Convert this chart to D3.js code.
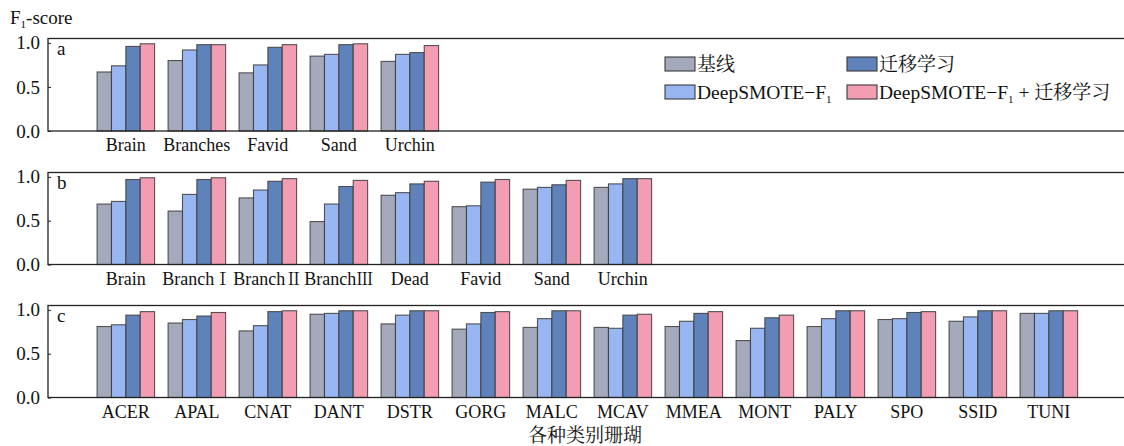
<!DOCTYPE html>
<html>
<head>
<meta charset="utf-8">
<script src="https://cdn.jsdelivr.net/npm/d3@7/dist/d3.min.js"></script>
</head>
<body style="margin:0;background:#fff">
<svg id="chart" width="1124" height="446" style="display:block"></svg>
<script>
// ---- data ----
const seriesNames = ["基线", "DeepSMOTE−F1", "迁移学习", "DeepSMOTE−F1 + 迁移学习"];
const seriesColors = ["#a4aabb", "#98b6f1", "#6082bb", "#f29db1"];
const yTicks = [0, 0.5, 1.0];

const catsA = ["Brain", "Branches", "Favid", "Sand", "Urchin"];
const baseA = [0.67, 0.80, 0.66, 0.85, 0.79];
const smoteA = [0.74, 0.92, 0.75, 0.87, 0.87];
const transA = [0.96, 0.98, 0.95, 0.98, 0.89];
const bothA = [0.99, 0.98, 0.98, 0.99, 0.97];

const catsB = ["Brain", "BranchⅠ", "BranchⅡ", "BranchⅢ", "Dead", "Favid", "Sand", "Urchin"];
const baseB = [0.69, 0.61, 0.76, 0.49, 0.79, 0.66, 0.86, 0.88];
const smoteB = [0.72, 0.80, 0.85, 0.69, 0.82, 0.67, 0.88, 0.92];
const transB = [0.97, 0.97, 0.95, 0.89, 0.92, 0.94, 0.91, 0.98];
const bothB = [0.99, 0.99, 0.98, 0.96, 0.95, 0.97, 0.96, 0.98];

const catsC = ["ACER", "APAL", "CNAT", "DANT", "DSTR", "GORG", "MALC", "MCAV", "MMEA", "MONT", "PALY", "SPO", "SSID", "TUNI"];
const baseC = [0.81, 0.85, 0.76, 0.95, 0.84, 0.78, 0.80, 0.80, 0.81, 0.65, 0.81, 0.89, 0.87, 0.96];
const smoteC = [0.83, 0.89, 0.82, 0.96, 0.94, 0.84, 0.90, 0.79, 0.87, 0.79, 0.90, 0.90, 0.92, 0.96];
const transC = [0.94, 0.93, 0.98, 0.99, 0.99, 0.97, 0.99, 0.94, 0.96, 0.91, 0.99, 0.97, 0.99, 0.99];
const bothC = [0.98, 0.97, 0.99, 0.99, 0.99, 0.98, 0.99, 0.95, 0.98, 0.94, 0.99, 0.98, 0.99, 0.99];

const panels = [
  { letter: "a", cats: catsA, series: [baseA, smoteA, transA, bothA], top: 38.5, bottom: 131 },
  { letter: "b", cats: catsB, series: [baseB, smoteB, transB, bothB], top: 172.5, bottom: 264.5 },
  { letter: "c", cats: catsC, series: [baseC, smoteC, transC, bothC], top: 305.5, bottom: 397.5 }
];

// ---- style ----
const SERIF = "Liberation Serif";
const CJK = "'Noto Serif CJK SC', 'Noto Sans CJK SC', sans-serif";
const INK = "#111";

const svg = d3.select("#chart");
const left = 48;
const step = 71;
const x0 = 90;

function setLabel(sel, s) {
  const m = s.match(/^(.*?)([ⅠⅡⅢ])$/);
  if (m) {
    sel.append("tspan").attr("font-family", SERIF).text(m[1]);
    sel.append("tspan").attr("font-family", CJK).attr("font-size", 17).text(m[2]);
  } else sel.text(s);
}

panels.forEach(p => {
  const n = p.cats.length;
  const x = d3.scaleBand().domain(p.cats)
    .range([x0, x0 + step * (n + 0.01)])
    .paddingInner(0.19).paddingOuter(0.1);
  const xs = d3.scaleBand().domain(d3.range(4)).range([0, x.bandwidth()]);
  const y = d3.scaleLinear().domain([0, 1.05]).range([p.bottom, p.top]);

  const g = svg.append("g");

  const rows = p.cats.map((c, i) => ({ cat: c, vals: p.series.map(s => s[i]) }));
  const grp = g.selectAll("g.cat").data(rows).join("g")
    .attr("transform", d => `translate(${x(d.cat)},0)`);
  grp.selectAll("rect").data(d => d.vals.map((v, k) => ({ v, k }))).join("rect")
    .attr("x", d => xs(d.k))
    .attr("y", d => y(d.v))
    .attr("width", xs.bandwidth())
    .attr("height", d => y(0) - y(d.v))
    .attr("fill", d => seriesColors[d.k])
    .attr("stroke", "#3a3a3a")
    .attr("stroke-opacity", 0.85)
    .attr("stroke-width", 1.1);

  g.append("rect")
    .attr("x", left).attr("y", p.top)
    .attr("width", 1124 - left + 10).attr("height", p.bottom - p.top)
    .attr("fill", "none").attr("stroke", "#222").attr("stroke-width", 1.3);

  const ya = d3.axisLeft(y).tickValues(yTicks).tickFormat(d3.format(".1f"))
    .tickSizeInner(-3).tickSizeOuter(0).tickPadding(8);
  const ag = g.append("g").attr("transform", `translate(${left},0)`).call(ya);
  ag.attr("font-family", SERIF).attr("font-size", 19);
  ag.select(".domain").remove();
  ag.selectAll("line").attr("stroke", "#222");
  ag.selectAll("text").attr("font-family", SERIF).attr("font-size", 19).attr("fill", INK);

  g.selectAll("text.cat").data(p.cats).join("text")
    .attr("class", "cat")
    .attr("x", d => x(d) + x.bandwidth() / 2)
    .attr("y", p.bottom + 20)
    .attr("text-anchor", "middle")
    .attr("font-family", SERIF).attr("font-size", 18).attr("fill", INK)
    .each(function(d) { setLabel(d3.select(this), d); });

  g.append("text").attr("x", 57).attr("y", p.top + 16.5)
    .attr("font-family", SERIF).attr("font-size", 19).attr("fill", INK).text(p.letter);
});

// y title
const yt = svg.append("text").attr("x", 10).attr("y", 24)
  .attr("font-family", SERIF).attr("font-size", 19).attr("fill", INK);
yt.append("tspan").text("F");
yt.append("tspan").attr("dy", 4).attr("font-size", 11).text("1");
yt.append("tspan").attr("dy", -4).text("-score");

// x title
svg.append("text").attr("x", 585).attr("y", 442)
  .attr("text-anchor", "middle").attr("font-family", CJK).attr("font-size", 19).attr("fill", INK)
  .text("各种类别珊瑚");

// legend
const legPos = [[665, 64], [665, 92], [847, 64], [847, 92]];
seriesNames.forEach((name, k) => {
  const [lx, ly] = legPos[k];
  svg.append("rect").attr("x", lx).attr("y", ly - 7).attr("width", 30).attr("height", 14)
    .attr("fill", seriesColors[k]).attr("stroke", "#3a3a3a").attr("stroke-width", 1.1);
  const t = svg.append("text").attr("x", lx + 32).attr("y", ly + 6.5)
    .attr("font-family", SERIF).attr("font-size", 19.5).attr("fill", INK);
  const m = name.match(/^(.*?)F1(.*)$/);
  if (m) {
    t.append("tspan").text(m[1] + "F");
    t.append("tspan").attr("dy", 4).attr("font-size", 11).text("1");
    const mm = m[2].match(/^(\s*\+\s*)(.*)$/);
    if (mm) {
      t.append("tspan").attr("dy", -4).text(mm[1]);
      t.append("tspan").attr("font-family", CJK).attr("font-size", 19).text(mm[2]);
    } else {
      t.append("tspan").attr("dy", -4).text(m[2]);
    }
  } else {
    t.append("tspan").attr("font-family", CJK).attr("font-size", 19).text(name);
  }
});
</script>
</body>
</html>
